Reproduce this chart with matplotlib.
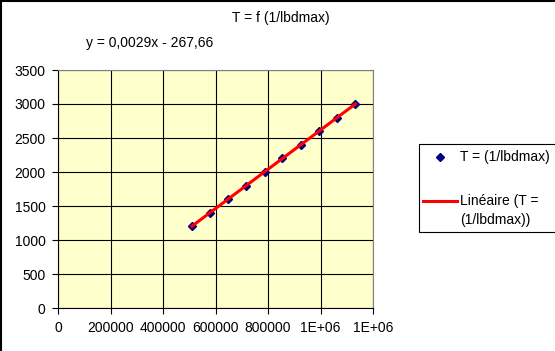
import numpy as np
import matplotlib
matplotlib.use("Agg")
import matplotlib.pyplot as plt
from matplotlib.lines import Line2D
from matplotlib.patches import Rectangle

plt.rcParams['font.family'] = ['Liberation Sans', 'DejaVu Sans']

# data
inv_lbd = [510000, 578000, 647000, 715000, 788000, 855000, 926000, 993000, 1063000, 1133000]
T = [1200, 1400, 1600, 1800, 2000, 2200, 2400, 2600, 2800, 3000]
x_ticks = [0, 200000, 400000, 600000, 800000, 1000000, 1200000]
x_labels = ["0", "200000", "400000", "600000", "800000", "1E+06", "1E+06"]
y_ticks = [0, 500, 1000, 1500, 2000, 2500, 3000, 3500]
title = "T = f (1/lbdmax)"
equation = "y = 0,0029x - 267,66"
series_label = "T = (1/lbdmax)"
trend_label = ["Linéaire (T =", "(1/lbdmax))"]

x = np.array(inv_lbd, dtype=float)
y = np.array(T, dtype=float)
m, b = np.polyfit(x, y, 1)

W, H = 555, 351
fs = 10
fig = plt.figure(figsize=(W / 100, H / 100), dpi=100)
ax = fig.add_axes([58 / W, 1 - 308 / H, (373 - 58) / W, (308 - 70) / H])
ax.set_facecolor("#FFFFCC")

ax.set_xlim(0, 1200000)
ax.set_ylim(0, 3500)
ax.set_xticks(x_ticks)
ax.set_xticklabels(x_labels)
ax.set_yticks(y_ticks)
ax.grid(True, color="black", linewidth=0.8)
ax.set_axisbelow(True)
ax.tick_params(labelsize=fs, length=4, width=0.8, direction="out", pad=5)

for s in ["top", "right"]:
    ax.spines[s].set_color("#808080")
for s in ["left", "bottom"]:
    ax.spines[s].set_color("black")
for s in ax.spines.values():
    s.set_linewidth(0.8)

ax.plot(x, y, linestyle="none", marker="D", markersize=4.5, color="#000080", zorder=3)
xf = np.array([x.min(), x.max()])
ax.plot(xf, m * xf + b, color="red", linewidth=2.2, zorder=4)

fig.text(281 / W, 1 - 18 / H, title, ha="center", va="center", fontsize=fs)
fig.text(86 / W, 1 - 43 / H, equation, ha="left", va="center", fontsize=fs)

# legend, drawn by hand to keep Excel's layout
def fx(px):
    return px / W

def fy(py):
    return 1 - py / H

fig.add_artist(Rectangle((fx(419), fy(232)), fx(560) - fx(419), fy(144) - fy(232),
                         transform=fig.transFigure, facecolor="white",
                         edgecolor="black", linewidth=0.8))
fig.add_artist(Line2D([fx(440)], [fy(157)], linestyle="none", marker="D", markersize=4.5,
                      color="#000080", transform=fig.transFigure))
fig.text(fx(460), fy(157), series_label, ha="left", va="center", fontsize=fs)
fig.add_artist(Line2D([fx(423), fx(457)], [fy(201), fy(201)], color="red", linewidth=2.2,
                      transform=fig.transFigure))
fig.text(fx(460), fy(201), trend_label[0], ha="left", va="center", fontsize=fs)
fig.text(fx(460), fy(220), trend_label[1], ha="left", va="center", fontsize=fs)

# outer chart frame (left and top edges visible)
fig.add_artist(Line2D([0.5 / W, 0.5 / W], [0, 1], color="black", linewidth=1.5,
                      transform=fig.transFigure))
fig.add_artist(Line2D([0, 1], [1 - 0.5 / H, 1 - 0.5 / H], color="black", linewidth=1.5,
                      transform=fig.transFigure))

fig.savefig("out.png", dpi=100)
